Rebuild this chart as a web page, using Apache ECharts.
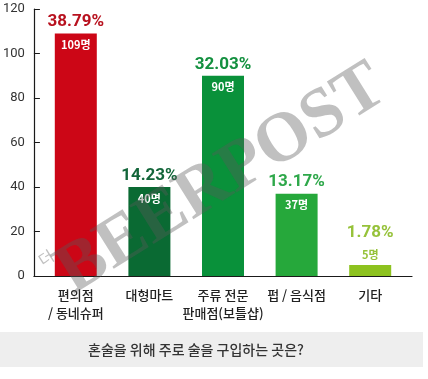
<!DOCTYPE html>
<html><head><meta charset="utf-8">
<script src="https://cdn.jsdelivr.net/npm/echarts@6/dist/echarts.min.js"></script>
<style>html,body{margin:0;padding:0;background:#fff}#c{width:428px;height:379px}</style>
</head><body><div id="c"></div>
<script>
const categories = ['편의점\n/ 동네슈퍼', '대형마트', '주류 전문\n판매점(보틀샵)', '펍 / 음식점', '기타'];
const counts = [109, 40, 90, 37, 5];
const percents = ['38.79%', '14.23%', '32.03%', '13.17%', '1.78%'];
const barColors = ['#cc0616', '#0a6a33', '#09913a', '#26a83b', '#8dc21f'];
const pctColors = ['#b8121f', '#13663a', '#13903f', '#2ea84a', '#96c23a'];
const yTicks = [0, 20, 40, 60, 80, 100, 120];
const title = '혼술을 위해 주로 술을 구입하는 곳은?';

const kr = '"Noto Sans CJK KR", "Noto Sans", sans-serif';
const chart = echarts.init(document.getElementById('c'));
chart.setOption({
  animation: false,
  grid: [
    {left: 33, right: 16, top: 9, bottom: 103},
    {left: 39, right: 21, top: 9, bottom: 103}
  ],
  xAxis: [
    {type: 'category', gridIndex: 0, data: categories, axisLine: {lineStyle: {color: '#1a1a1a', width: 1.2}},
     axisTick: {show: false}, axisLabel: {show: false}},
    {type: 'category', gridIndex: 1, data: categories, axisLine: {show: false}, axisTick: {show: false},
     axisLabel: {interval: 0, fontFamily: kr, fontSize: 13, fontWeight: 500, color: '#222', lineHeight: 18, margin: 10}}
  ],
  yAxis: [
    {type: 'value', gridIndex: 0, min: yTicks[0], max: yTicks[yTicks.length - 1], interval: 20,
     axisLine: {show: true, lineStyle: {color: '#1a1a1a', width: 1.2}},
     axisTick: {show: true, inside: true, length: 6, lineStyle: {color: '#1a1a1a'}},
     splitLine: {show: false},
     axisLabel: {fontFamily: 'Roboto, sans-serif', fontSize: 13, color: '#333', margin: 9, padding: [10, 0, 0, 0]}},
    {type: 'value', gridIndex: 1, min: 0, max: 120, show: false}
  ],
  series: [
    {type: 'bar', xAxisIndex: 1, yAxisIndex: 1, barWidth: 42,
     data: counts.map((v, i) => ({value: v, itemStyle: {color: barColors[i]},
       label: {color: pctColors[i], distance: i === 4 ? 24 : 3}})),
     label: {show: true, position: 'top', fontFamily: 'Roboto, sans-serif', fontWeight: 'bold', fontSize: 17,
       formatter: p => percents[p.dataIndex]}},
    {type: 'bar', xAxisIndex: 1, yAxisIndex: 1, barWidth: 42, barGap: '-100%',
     itemStyle: {color: 'rgba(0,0,0,0)'},
     data: counts.map((v, i) => ({value: v,
       label: i === 4 ? {position: 'top', distance: 5, color: pctColors[i]} : {}})),
     label: {show: true, position: 'insideTop', distance: 6, color: '#fff', fontFamily: kr, fontWeight: 'bold',
       fontSize: 11, formatter: p => counts[p.dataIndex] + '명'}}
  ],
  graphic: [
    {type: 'rect', left: 0, top: 332, shape: {width: 423, height: 35}, style: {fill: '#eeeeee'}, z: 1},
    {type: 'text', x: 196, y: 350, style: {text: title, fontFamily: kr, fontSize: 14, fontWeight: 500,
      fill: '#333', align: 'center', verticalAlign: 'middle'}, z: 2},
    {type: 'text', x: 222, y: 180, rotation: Math.PI * 32 / 180, z: 100,
     style: {text: 'BEERPOST', fontFamily: '"Liberation Serif", serif', fontWeight: 'bold', fontSize: 70,
       fill: 'rgba(90,90,90,0.38)', align: 'center', verticalAlign: 'middle'}},
    {type: 'text', x: 46, y: 258, rotation: Math.PI * 32 / 180, z: 100,
     style: {text: '더', fontFamily: kr, fontSize: 16, fill: 'rgba(90,90,90,0.38)',
       align: 'center', verticalAlign: 'middle'}}
  ]
});
</script></body></html>
